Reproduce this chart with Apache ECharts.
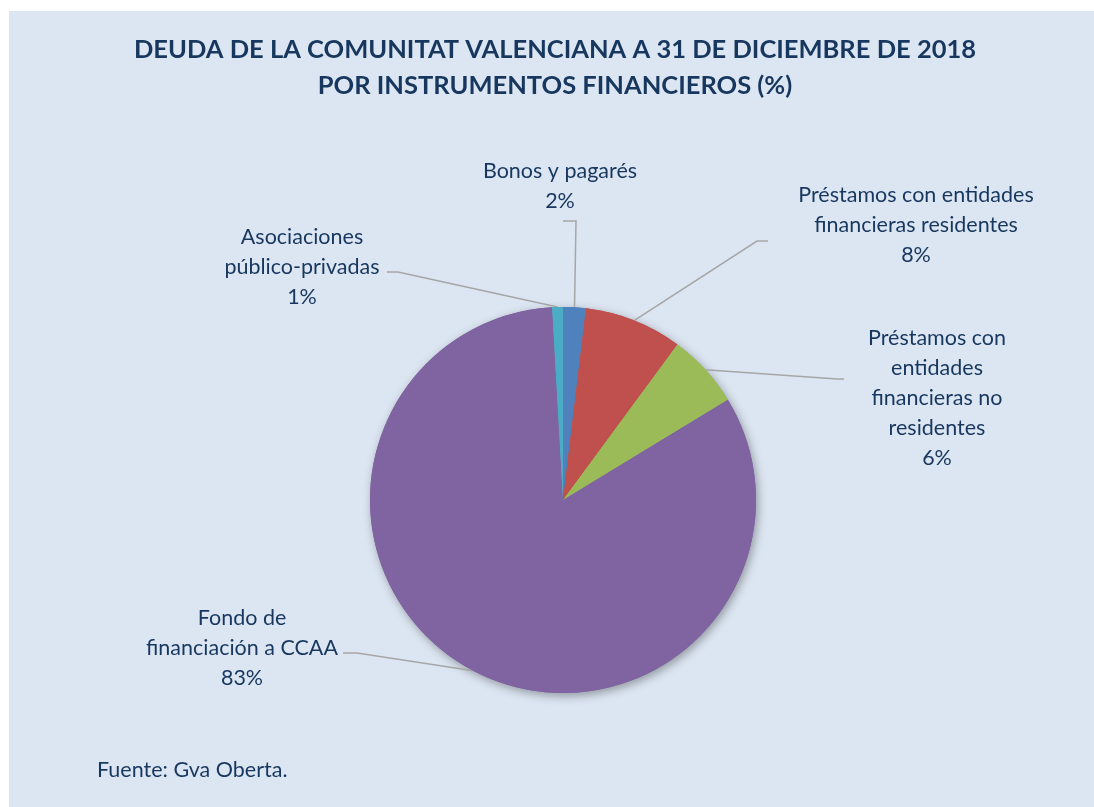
<!DOCTYPE html>
<html>
<head>
<meta charset="utf-8">
<script src="https://cdn.jsdelivr.net/npm/echarts@6/dist/echarts.min.js"></script>
<style>
html,body{margin:0;padding:0;background:#fff;}
#chart{width:1094px;height:807px;}
</style>
</head>
<body>
<div id="chart"></div>
<script>
// ---- data ----
const titleLines = ['DEUDA DE LA COMUNITAT VALENCIANA A 31 DE DICIEMBRE DE 2018', 'POR INSTRUMENTOS FINANCIEROS (%)'];
const sourceNote = 'Fuente: Gva Oberta.';
const categories = [
  'Bonos y pagarés',
  'Préstamos con entidades\nfinancieras residentes',
  'Préstamos con\nentidades\nfinancieras no\nresidentes',
  'Fondo de\nfinanciación a CCAA',
  'Asociaciones\npúblico-privadas'
];
const shares = [1.9, 8.2, 6.2, 82.8, 0.9];
const colors = ['#4f81bd', '#c0504d', '#9bbb59', '#8064a2', '#4bacc6'];

// ---- label placement (layout only) ----
const labelPlace = [
  {x: 560, y: 186, elbow: [576, 221], end: [563, 221]},
  {x: 916, y: 225, elbow: [757, 241], end: [768, 241]},
  {x: 937, y: 398, elbow: [837, 379], end: [844, 379]},
  {x: 242, y: 648, elbow: [357, 653], end: [343, 653]},
  {x: 302, y: 267, elbow: [398, 272], end: [387, 272]}
];

const pieData = categories.map((c, i) => ({name: c, value: shares[i], itemStyle: {color: colors[i]}}));
const FONT = 'Lato';
const TXT = '#17375e';

const chart = echarts.init(document.getElementById('chart'), null, {renderer: 'canvas'});
chart.setOption({
  backgroundColor: '#ffffff',
  animation: false,
  graphic: [{
    type: 'rect', z: -10, silent: true,
    shape: {x: 9, y: 11, width: 1085, height: 796},
    style: {fill: '#dce6f2'}
  }],
  title: [{
    text: titleLines.join('\n'),
    left: 555, top: 32, padding: 0, textAlign: 'center',
    textStyle: {fontFamily: FONT, fontSize: 25.5, fontWeight: 'bold', color: TXT, lineHeight: 36}
  }, {
    text: sourceNote,
    left: 97, top: 757, padding: 0,
    textStyle: {fontFamily: FONT, fontSize: 21.5, fontWeight: 'normal', color: TXT, lineHeight: 26}
  }],
  series: [{
    type: 'pie', silent: true, z: 1,
    center: [563, 500], radius: 193, startAngle: 90, clockwise: true,
    label: {show: false}, labelLine: {show: false},
    itemStyle: {shadowBlur: 10, shadowColor: 'rgba(0,0,0,0.35)', shadowOffsetX: 2, shadowOffsetY: 3},
    data: pieData
  }, {
    type: 'pie', z: 2,
    center: [563, 500], radius: 193, startAngle: 90, clockwise: true,
    avoidLabelOverlap: false,
    itemStyle: {borderWidth: 0},
    label: {
      show: true, position: 'outside',
      fontFamily: FONT, fontSize: 21.5, lineHeight: 30, color: TXT, align: 'center',
      formatter: p => p.name + '\n' + Math.round(p.percent) + '%'
    },
    labelLine: {show: true, length: 20, length2: 10, lineStyle: {color: '#a6a6a6', width: 1.5}},
    labelLayout: function (params) {
      const lp = labelPlace[params.dataIndex];
      const start = params.labelLinePoints ? params.labelLinePoints[0] : lp.elbow;
      return {
        x: lp.x, y: lp.y, align: 'center', verticalAlign: 'middle',
        labelLinePoints: [start, lp.elbow, lp.end]
      };
    },
    data: pieData
  }]
});
</script>
</body>
</html>
